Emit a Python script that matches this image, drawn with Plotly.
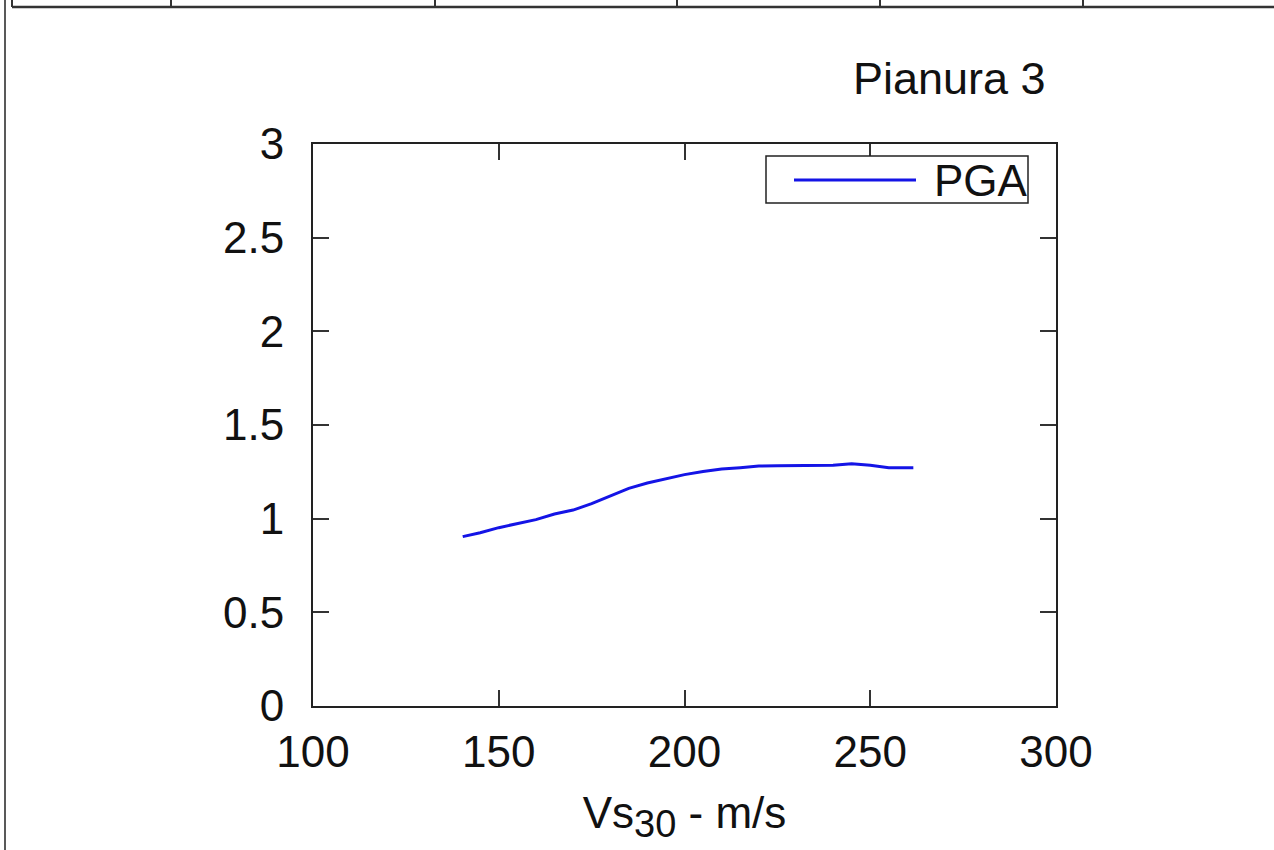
import plotly.graph_objs as go

# PGA vs Vs30, Pianura 3
vs30 = [140.3, 145, 150, 155, 160, 165, 170, 175, 180, 185, 190, 195, 200,
        205, 210, 215, 220, 225, 230, 235, 240, 245, 250, 255, 261.6]
pga = [0.904, 0.925, 0.952, 0.973, 0.995, 1.025, 1.046, 1.08, 1.12, 1.162,
       1.19, 1.212, 1.235, 1.252, 1.265, 1.272, 1.281, 1.283, 1.283, 1.283,
       1.285, 1.293, 1.285, 1.272, 1.272]

xticks = [100, 150, 200, 250, 300]
yticks = [0, 0.5, 1, 1.5, 2, 2.5, 3]

W, H = 1274, 850
L, R, T, B = 313, 1056, 144, 706
FONT = "Liberation Sans, Arial, sans-serif"


def px(x):
    return (x - L) / (R - L)


def py(y):
    return (B - y) / (B - T)


fig = go.Figure()
fig.add_trace(go.Scatter(x=vs30, y=pga, mode="lines", name="PGA",
                         line=dict(color="#1414e6", width=3), showlegend=False))

axis_style = dict(showline=True, linecolor="#222", linewidth=2, mirror="ticks",
                  ticks="inside", ticklen=16, tickwidth=1.5, tickcolor="#333",
                  showgrid=False, zeroline=False,
                  tickfont=dict(family=FONT, size=44, color="#111"))

fig.update_xaxes(range=[100, 300], tickvals=xticks, ticklabelstandoff=6,
                 title=dict(text="Vs<sub><span style='font-size:38px'>30</span></sub> - m/s",
                            standoff=22,
                            font=dict(family=FONT, size=44, color="#111")),
                 **axis_style)
fig.update_yaxes(range=[0, 3], tickvals=yticks, ticklabelstandoff=18, **axis_style)

shapes = []
# frame of the surrounding table
shapes.append(dict(type="line", xref="paper", yref="paper", x0=px(5), x1=px(5),
                   y0=py(0), y1=py(850), line=dict(color="#222", width=1.5)))
shapes.append(dict(type="line", xref="paper", yref="paper", x0=px(12), x1=px(1274),
                   y0=py(7), y1=py(7), line=dict(color="#333", width=2.5)))
for xc in [12, 171, 435, 677, 880, 1083]:
    shapes.append(dict(type="line", xref="paper", yref="paper", x0=px(xc), x1=px(xc),
                       y0=py(0), y1=py(7), line=dict(color="#333", width=2)))
# legend
shapes.append(dict(type="rect", xref="paper", yref="paper", x0=px(766), x1=px(1028),
                   y0=py(203), y1=py(156), line=dict(color="#222", width=1.5),
                   fillcolor="white"))
shapes.append(dict(type="line", xref="paper", yref="paper", x0=px(794), x1=px(916),
                   y0=py(180), y1=py(180), line=dict(color="#1414e6", width=3)))

fig.update_layout(
    width=W, height=H,
    margin=dict(l=L, r=W - R, t=T, b=H - B),
    paper_bgcolor="white", plot_bgcolor="white",
    shapes=shapes,
    annotations=[
        dict(text="Pianura 3", xref="paper", yref="paper", x=px(1048), y=py(78),
             xanchor="right", yanchor="middle", showarrow=False,
             font=dict(family=FONT, size=45, color="#111")),
        dict(text="PGA", xref="paper", yref="paper", x=px(1030), y=py(181),
             xanchor="right", yanchor="middle", showarrow=False,
             font=dict(family=FONT, size=44, color="#111")),
    ],
)

fig.write_html("out.html", config={"displayModeBar": False},
               post_script="document.body.style.margin='0';")
